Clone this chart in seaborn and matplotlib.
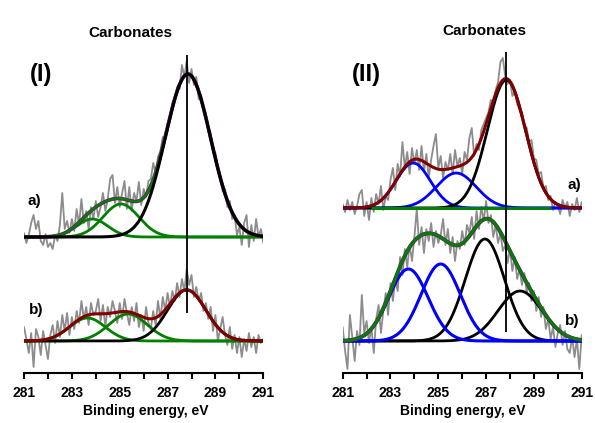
import numpy as np
import seaborn as sns
import matplotlib.pyplot as plt

# binding energy grid of the raw spectra (eV)
energy = np.round(np.arange(281.0, 291.01, 0.1), 1)

# raw C1s counts (arbitrary units, above each trace's own baseline)
raw_Ia = [4, -6, 2, 14, 22, 8, 16, -4, -8, 3,
          -10, -6, -12, 2, -4, 12, 44, 8, 16, 4,
          18, 6, 28, 12, 38, 14, 26, 8, 30, 18,
          36, 20, 30, 44, 26, 38, 58, 62, 34, 50,
          30, 44, 56, 28, 50, 26, 44, 36, 55, 32,
          48, 40, 56, 58, 74, 64, 80, 86, 100, 98,
          114, 120, 134, 140, 150, 148, 172, 160, 176, 154,
          168, 152, 160, 138, 142, 128, 124, 110, 104, 86,
          84, 70, 62, 46, 48, 30, 36, 18, 22, 2,
          10, -8, 14, 22, -10, 12, -4, 18, 0, 8,
          -6]
raw_Ib = [14, 2, -12, 8, -26, 12, 4, -14, 10, -4,
          -18, 6, 16, -2, 20, 4, 26, 10, 28, 6,
          24, 12, 30, 18, 40, 22, 34, 16, 38, 26,
          30, 42, 20, 36, 14, 34, 24, 40, 30, 18,
          38, 22, 42, 28, 16, 34, 20, 38, 14, 26,
          10, 34, 18, 12, 30, 16, 40, 22, 44, 30,
          48, 34, 50, 40, 58, 44, 62, 50, 72, 56,
          66, 44, 54, 40, 48, 30, 38, 22, 34, 10,
          26, 0, 12, 24, 6, -4, 14, -8, 6, -12,
          4, -16, 2, -10, 8, -6, 4, -12, 6, -2,
          2]
raw_IIa = [4, -4, 8, -2, 6, -6, 2, 14, 18, -8,
           6, -12, 10, -4, 14, 4, 22, -2, 12, 8,
           28, 40, 18, 44, 32, 66, 40, 56, 34, 60,
           44, 58, 38, 62, 36, 54, 30, 48, 62, 74,
           40, 52, 30, 46, 38, 54, 34, 58, 42, 50,
           34, 56, 48, 70, 80, 52, 64, 58, 78, 84,
           90, 96, 108, 104, 118, 126, 146, 150, 132, 124,
           128, 112, 116, 104, 98, 96, 84, 80, 66, 68,
           50, 48, 34, 36, 20, 22, 8, 12, -2, 6,
           2, -6, 8, 0, 6, -8, 4, -2, 10, -4,
           6]
raw_IIb = [14, -10, -28, 26, 4, -20, 10, -4, 46, 8,
           20, -2, 14, -12, 22, 36, 8, 30, 48, 26,
           58, 40, 62, 50, 84, 66, 92, 74, 96, 80,
           104, 132, 96, 114, 88, 112, 100, 118, 94, 110,
           98, 106, 122, 96, 112, 88, 104, 80, 100, 92,
           110, 96, 116, 108, 124, 102, 130, 112, 134, 120,
           140, 118, 126, 104, 116, 98, 108, 90, 96, 78,
           92, 70, 84, 62, 72, 56, 68, 48, 58, 40,
           50, 30, 44, 24, 34, 12, 22, 2, 14, -6,
           8, 16, -4, 10, -8, -12, 4, -16, 2, -28,
           6]
for r in (raw_Ia, raw_Ib, raw_IIa, raw_IIb):
    assert len(r) == len(energy)

# fitted components: (centre eV, height, sigma eV)
Ia_green = [(283.85, 18, 0.65), (285.05, 33, 0.75)]
Ia_black = [(287.85, 163, 0.95)]
Ib_green = [(283.65, 23, 0.75), (285.35, 27, 0.8)]
Ib_black = [(287.8, 51, 0.8)]
IIa_blue = [(283.95, 45, 0.715), (285.75, 35, 0.83)]
IIa_black = [(287.85, 128, 0.8)]
IIa_flat = (282.2, 289.7)
IIb_blue = [(283.75, 72, 0.82), (285.1, 77, 0.82)]
IIb_black = [(286.95, 102, 0.82), (288.42, 50, 0.92)]

carbonate_I = 287.8
carbonate_II = 287.85

# vertical placement of the stacked traces (pixels above axis)
off_a_I, off_b_I, off_a_II, off_b_II = 136, 32, 165, 32

sns.set_style("white")
plt.rcParams['font.family'] = ['Liberation Sans', 'DejaVu Sans']
plt.rcParams['text.color'] = 'black'
plt.rcParams['xtick.color'] = 'black'
plt.rcParams['xtick.labelcolor'] = 'black'

W, H = 595, 423
fig = plt.figure(figsize=(W / 100, H / 100), dpi=100)


def px_axes(x0, x1, ytop, ybot):
    return fig.add_axes([x0 / W, 1 - ybot / H, (x1 - x0) / W, (ybot - ytop) / H])


grid = np.linspace(281, 291, 501)


def gauss(p):
    c, h, s = p
    return h * np.exp(-(grid - c) ** 2 / (2 * s ** 2))


def line(ax, x, y, color, lw, z):
    sns.lineplot(x=x, y=y, ax=ax, color=color, lw=lw, zorder=z,
                 estimator=None, sort=False)


GRAY, GREEN, DRED, BLUE, PURPLE = '#8c8c8c', '#008000', '#800000', '#0000ff', '#800080'

ax1 = px_axes(24, 263.3, 40, 373)
ax2 = px_axes(342.7, 581.7, 40, 373)

# ---- panel I ----
line(ax1, energy, np.array(raw_Ia) + off_a_I, GRAY, 1.3, 1)
env = sum(gauss(p) for p in Ia_green + Ia_black)
for p in Ia_green:
    line(ax1, grid, gauss(p) + off_a_I, GREEN, 2, 2)
line(ax1, grid, env + off_a_I, PURPLE, 2.6, 3)
line(ax1, grid, env + off_a_I, GREEN, 1.8, 4)
for p in Ia_black:
    line(ax1, grid, gauss(p) + off_a_I, 'black', 2.2, 5)

line(ax1, energy, np.array(raw_Ib) + off_b_I, GRAY, 1.3, 1)
for p in Ib_green:
    line(ax1, grid, gauss(p) + off_b_I, GREEN, 2, 2)
for p in Ib_black:
    line(ax1, grid, gauss(p) + off_b_I, 'black', 2, 3)
env = sum(gauss(p) for p in Ib_green + Ib_black)
line(ax1, grid, env + off_b_I, DRED, 2.2, 4)
ax1.vlines(carbonate_I, 60, 318, color='black', lw=1.3, zorder=6)

# ---- panel II ----
line(ax2, energy, np.array(raw_IIa) + off_a_II, GRAY, 1.3, 1)
for p in IIa_blue:
    line(ax2, grid, gauss(p) + off_a_II, BLUE, 2, 2)
for p in IIa_black:
    line(ax2, grid, gauss(p) + off_a_II, 'black', 2, 3)
env = sum(gauss(p) for p in IIa_blue + IIa_black)
line(ax2, grid, env + off_a_II, DRED, 2.2, 4)
ax2.hlines(off_a_II, *IIa_flat, color=GREEN, lw=2.2, zorder=5)

line(ax2, energy, np.array(raw_IIb) + off_b_II, GRAY, 1.3, 1)
for p in IIb_black:
    line(ax2, grid, gauss(p) + off_b_II, 'black', 2, 2)
for p in IIb_blue:
    line(ax2, grid, gauss(p) + off_b_II, BLUE, 2.2, 3)
env = sum(gauss(p) for p in IIb_blue + IIb_black)
line(ax2, grid, env + off_b_II, PURPLE, 2.8, 4)
line(ax2, grid, env + off_b_II, GREEN, 2.2, 5)
ax2.vlines(carbonate_II, 41, 321, color='black', lw=1.3, zorder=6)

for ax in (ax1, ax2):
    ax.set_xlim(281, 291)
    ax.set_ylim(0, 333)
    sns.despine(ax=ax, left=True)
    ax.spines['bottom'].set_linewidth(1.5)
    ax.spines['bottom'].set_color('black')
    ax.set_yticks([])
    ax.set_xticks(range(281, 292, 2))
    ax.set_xticks(range(282, 291, 2), minor=True)
    ax.tick_params(axis='x', which='both', direction='out', length=4, width=1.5,
                   color='black', labelcolor='black', pad=5, bottom=True)
    for t in ax.get_xticklabels():
        t.set_fontweight('bold')
        t.set_fontsize(10)
    ax.set_xlabel('')
    ax.set_ylabel('')
    ax.patch.set_alpha(0)


def ftext(x, y, s, size):
    fig.text(x / W, 1 - y / H, s, ha='center', va='center', fontsize=size,
             fontweight='bold', color='black')


ftext(130, 33, 'Carbonates', 11)
ftext(484, 31, 'Carbonates', 11)
ftext(41, 74, '(I)', 17)
ftext(366, 75, '(II)', 17)
ftext(34, 201, 'a)', 11)
ftext(36, 310, 'b)', 11)
ftext(574, 185, 'a)', 11)
ftext(572, 321, 'b)', 11)
ftext(146, 411, 'Binding energy, eV', 10)
ftext(463, 411, 'Binding energy, eV', 10)

fig.savefig('out.png', dpi=100)
